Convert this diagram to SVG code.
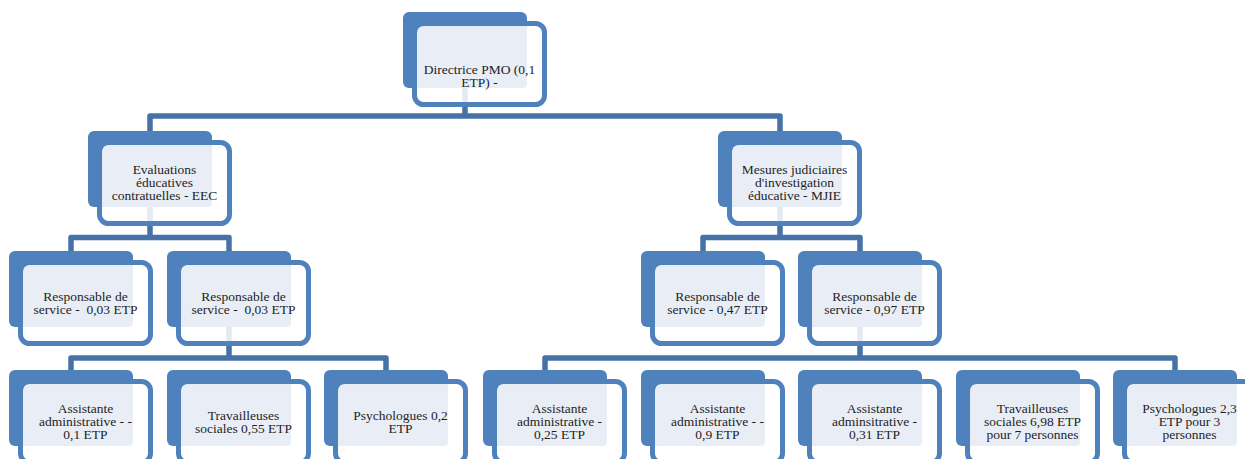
<svg xmlns="http://www.w3.org/2000/svg" width="1245" height="459" viewBox="0 0 1245 459">
<style>
.b{fill:#4F81BD}
.w{fill:#FFFFFF;fill-opacity:0.85;stroke:#4F81BD;stroke-width:5}
.t{fill:#E9EEF6;fill-opacity:0.95}
.c{fill:none;stroke:#4672A8;stroke-width:5.5;stroke-linejoin:round}
text{font-family:"Liberation Serif","Times New Roman",serif;font-size:13.5px;fill:#1E1E1E;text-anchor:middle}
</style>
<rect width="1245" height="459" fill="#FFFFFF"/>
<g id="connectors">
<path class="c" d="M465,88 L465,116 M150,131 L150,116 L780,116 L780,131"/>
<path class="c" d="M150,207 L150,237.5 M71,251 L71,237.5 L229,237.5 L229,251"/>
<path class="c" d="M780,207 L780,237.5 M703,251 L703,237.5 L860,237.5 L860,251"/>
<path class="c" d="M229,327 L229,358 M71,370 L71,358 L386,358 L386,370"/>
<path class="c" d="M860,327 L860,358 M545,370 L545,358 L1175,358 L1175,370"/>
</g>
<g id="n-directrice" transform="translate(403,12)">
<rect class="b" width="124" height="76" rx="6"/><rect class="w" x="11.5" y="11.5" width="130" height="81" rx="9"/><rect class="t" x="15" y="15" width="109" height="61" rx="4"/>
<text x="76.5" y="61.5">Directrice PMO (0,1<tspan x="76.5" dy="13.3">ETP) -</tspan></text>
</g>
<g id="n-eec" transform="translate(88,131)">
<rect class="b" width="124" height="76" rx="6"/><rect class="w" x="11.5" y="11.5" width="130" height="81" rx="9"/><rect class="t" x="15" y="15" width="109" height="61" rx="4"/>
<text x="76.5" y="42.7">Evaluations<tspan x="76.5" dy="13.3">éducatives</tspan><tspan x="76.5" dy="13.3">contratuelles - EEC</tspan></text>
</g>
<g id="n-mjie" transform="translate(718,131)">
<rect class="b" width="124" height="76" rx="6"/><rect class="w" x="11.5" y="11.5" width="130" height="81" rx="9"/><rect class="t" x="15" y="15" width="109" height="61" rx="4"/>
<text x="76.5" y="42.7">Mesures judiciaires<tspan x="76.5" dy="13.3">d'investigation</tspan><tspan x="76.5" dy="13.3">éducative - MJIE</tspan></text>
</g>
<g id="n-rs1" transform="translate(9,251)">
<rect class="b" width="124" height="76" rx="6"/><rect class="w" x="11.5" y="11.5" width="130" height="81" rx="9"/><rect class="t" x="15" y="15" width="109" height="61" rx="4"/>
<text x="76.5" y="49.5" xml:space="preserve">Responsable de<tspan x="76.5" dy="13.3">service -  0,03 ETP</tspan></text>
</g>
<g id="n-rs2" transform="translate(167,251)">
<rect class="b" width="124" height="76" rx="6"/><rect class="w" x="11.5" y="11.5" width="130" height="81" rx="9"/><rect class="t" x="15" y="15" width="109" height="61" rx="4"/>
<text x="76.5" y="49.5" xml:space="preserve">Responsable de<tspan x="76.5" dy="13.3">service -  0,03 ETP</tspan></text>
</g>
<g id="n-rs3" transform="translate(641,251)">
<rect class="b" width="124" height="76" rx="6"/><rect class="w" x="11.5" y="11.5" width="130" height="81" rx="9"/><rect class="t" x="15" y="15" width="109" height="61" rx="4"/>
<text x="76.5" y="49.5">Responsable de<tspan x="76.5" dy="13.3">service - 0,47 ETP</tspan></text>
</g>
<g id="n-rs4" transform="translate(798,251)">
<rect class="b" width="124" height="76" rx="6"/><rect class="w" x="11.5" y="11.5" width="130" height="81" rx="9"/><rect class="t" x="15" y="15" width="109" height="61" rx="4"/>
<text x="76.5" y="49.5">Responsable de<tspan x="76.5" dy="13.3">service - 0,97 ETP</tspan></text>
</g>
<g id="n-aa1" transform="translate(9,370)">
<rect class="b" width="124" height="76" rx="6"/><rect class="w" x="11.5" y="11.5" width="130" height="81" rx="9"/><rect class="t" x="15" y="15" width="109" height="61" rx="4"/>
<text x="76.5" y="42.7">Assistante<tspan x="76.5" dy="13.3">administrative - -</tspan><tspan x="76.5" dy="13.3">0,1 ETP</tspan></text>
</g>
<g id="n-ts1" transform="translate(167,370)">
<rect class="b" width="124" height="76" rx="6"/><rect class="w" x="11.5" y="11.5" width="130" height="81" rx="9"/><rect class="t" x="15" y="15" width="109" height="61" rx="4"/>
<text x="76.5" y="49.5">Travailleuses<tspan x="76.5" dy="13.3">sociales 0,55 ETP</tspan></text>
</g>
<g id="n-ps1" transform="translate(324,370)">
<rect class="b" width="124" height="76" rx="6"/><rect class="w" x="11.5" y="11.5" width="130" height="81" rx="9"/><rect class="t" x="15" y="15" width="109" height="61" rx="4"/>
<text x="76.5" y="49.5">Psychologues 0,2<tspan x="76.5" dy="13.3">ETP</tspan></text>
</g>
<g id="n-aa2" transform="translate(483,370)">
<rect class="b" width="124" height="76" rx="6"/><rect class="w" x="11.5" y="11.5" width="130" height="81" rx="9"/><rect class="t" x="15" y="15" width="109" height="61" rx="4"/>
<text x="76.5" y="42.7">Assistante<tspan x="76.5" dy="13.3">administrative -</tspan><tspan x="76.5" dy="13.3">0,25 ETP</tspan></text>
</g>
<g id="n-aa3" transform="translate(641,370)">
<rect class="b" width="124" height="76" rx="6"/><rect class="w" x="11.5" y="11.5" width="130" height="81" rx="9"/><rect class="t" x="15" y="15" width="109" height="61" rx="4"/>
<text x="76.5" y="42.7">Assistante<tspan x="76.5" dy="13.3">administrative - -</tspan><tspan x="76.5" dy="13.3">0,9 ETP</tspan></text>
</g>
<g id="n-aa4" transform="translate(798,370)">
<rect class="b" width="124" height="76" rx="6"/><rect class="w" x="11.5" y="11.5" width="130" height="81" rx="9"/><rect class="t" x="15" y="15" width="109" height="61" rx="4"/>
<text x="76.5" y="42.7">Assistante<tspan x="76.5" dy="13.3">adminsitrative -</tspan><tspan x="76.5" dy="13.3">0,31 ETP</tspan></text>
</g>
<g id="n-ts2" transform="translate(956,370)">
<rect class="b" width="124" height="76" rx="6"/><rect class="w" x="11.5" y="11.5" width="130" height="81" rx="9"/><rect class="t" x="15" y="15" width="109" height="61" rx="4"/>
<text x="76.5" y="42.7">Travailleuses<tspan x="76.5" dy="13.3">sociales 6,98 ETP</tspan><tspan x="76.5" dy="13.3">pour 7 personnes</tspan></text>
</g>
<g id="n-ps2" transform="translate(1113,370)">
<rect class="b" width="124" height="76" rx="6"/><rect class="w" x="11.5" y="11.5" width="130" height="81" rx="9"/><rect class="t" x="15" y="15" width="109" height="61" rx="4"/>
<text x="76.5" y="42.7">Psychologues 2,3<tspan x="76.5" dy="13.3">ETP pour 3</tspan><tspan x="76.5" dy="13.3">personnes</tspan></text>
</g>
</svg>
